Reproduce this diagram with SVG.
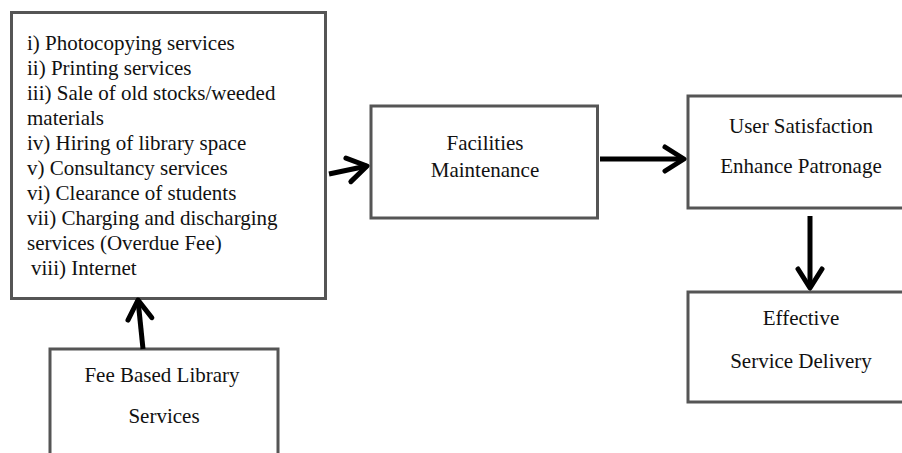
<svg xmlns="http://www.w3.org/2000/svg" width="902" height="453" viewBox="0 0 902 453">
<style>
.box{fill:#fff;stroke:#555;stroke-width:3}
.t{font-family:"Times New Roman","Liberation Serif",Tinos,"DejaVu Serif",Times,serif;font-size:21px;fill:#111}
.c{text-anchor:middle}
.conn{fill:none;stroke:#000;stroke-width:5;marker-end:url(#ah)}
</style>
<defs>
<marker id="ah" markerUnits="userSpaceOnUse" markerWidth="40" markerHeight="40" viewBox="-25 -20 40 40" refX="0" refY="0" orient="auto" overflow="visible">
<path d="M-19,-12 L0,0 L-19,12" fill="none" stroke="#000" stroke-width="5" stroke-linejoin="round" stroke-linecap="round"/>
</marker>
</defs>
<rect width="902" height="453" fill="#fff"/>
<g id="services">
<rect class="box" x="11.5" y="12.5" width="314" height="286"/>
<text class="t" x="27" y="50">i) Photocopying services</text>
<text class="t" x="27" y="75">ii) Printing services</text>
<text class="t" x="27" y="100">iii)  Sale of old stocks/weeded</text>
<text class="t" x="27" y="125">materials</text>
<text class="t" x="27" y="150">iv) Hiring of library  space</text>
<text class="t" x="27" y="175">v) Consultancy services</text>
<text class="t" x="27" y="200">vi)  Clearance of students</text>
<text class="t" x="27" y="225">vii) Charging and discharging</text>
<text class="t" x="27" y="250">services  (Overdue Fee)</text>
<text class="t" x="31" y="275">viii)  Internet</text>
</g>
<g id="facilities">
<rect class="box" x="371" y="106" width="226.5" height="112"/>
<text class="t c" x="485" y="150">Facilities</text>
<text class="t c" x="485" y="177">Maintenance</text>
</g>
<g id="satisfaction">
<rect class="box" x="688" y="96" width="230" height="112"/>
<text class="t c" x="801" y="133">User Satisfaction</text>
<text class="t c" x="801" y="173">Enhance Patronage</text>
</g>
<g id="delivery">
<rect class="box" x="688" y="292" width="230" height="110"/>
<text class="t c" x="801" y="325">Effective</text>
<text class="t c" x="801" y="368">Service Delivery</text>
</g>
<g id="fee">
<rect class="box" x="50" y="349" width="228" height="130"/>
<text class="t c" x="162" y="382">Fee Based Library</text>
<text class="t c" x="164" y="423">Services</text>
</g>
<g id="connectors">
<path class="conn" d="M329,174 L367,166"/>
<path class="conn" d="M600,159 L684,159"/>
<path class="conn" d="M810,216 L810,288"/>
<path class="conn" d="M143,349 L138,300"/>
</g>
</svg>
